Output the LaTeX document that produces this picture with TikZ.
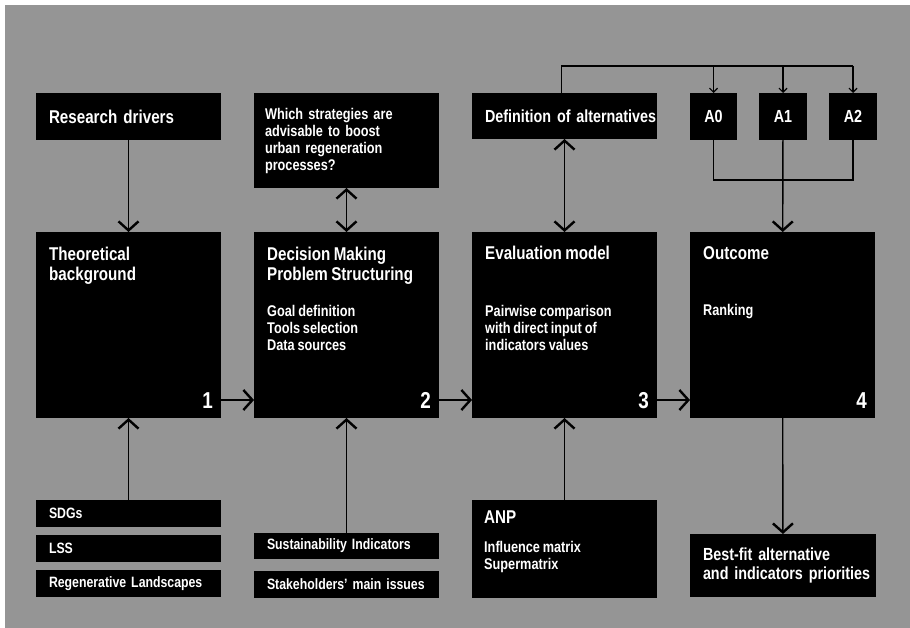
\documentclass[tikz,border=0pt]{standalone}
\usepackage{fontspec}
\setmainfont{Liberation Sans}[FakeStretch=0.82,WordSpace=0.8]
\usepackage{xcolor}
\definecolor{fondgris}{HTML}{959595}
\usetikzlibrary{positioning,arrows.meta}
\newcommand{\fnttitle}{\fontsize{18.5}{20}\selectfont\bfseries}
\newcommand{\fntsub}{\fontsize{15.5}{17}\selectfont\bfseries}
\newcommand{\fntnum}{\fontsize{23}{23}\selectfont\bfseries}
\newcommand{\fntmid}{\fontsize{17.5}{19}\selectfont\bfseries}
\newcommand{\fntsmall}{\fontsize{15}{17}\selectfont\bfseries}

\begin{document}
\begin{tikzpicture}[x=1pt,y=-1pt,
  blk/.style={fill=black,text=white,inner sep=0pt,outer sep=0pt,anchor=north west},
  big/.style={blk,minimum width=185pt,minimum height=186pt},
  strip/.style={blk,minimum width=185pt,minimum height=27pt,text width=159pt,align=left,font=\fntsmall},
  txt/.style={text=white,inner sep=0pt,anchor=base west,align=left},
  fl/.style={line width=1.4pt,-{Straight Barb[length=9pt,width=20pt,line width=2.4pt]}},
  fl2/.style={line width=1.4pt,{Straight Barb[length=9pt,width=20pt,line width=2.4pt]}-{Straight Barb[length=9pt,width=20pt,line width=2.4pt]}},
  fine/.style={line width=1.2pt,-{Straight Barb[length=4pt,width=8pt,line width=1.2pt]}}
]
\useasboundingbox (0,0) rectangle (910,628);
\fill[white] (0,0) rectangle (910,628);
\fill[fondgris] (5,5) rectangle (910,628);

% top row
\node[blk,minimum width=185pt,minimum height=47pt,text width=159pt,align=left,font=\fnttitle] (rd) at (36,93) {Research drivers};
\node[blk,minimum width=185pt,minimum height=95pt,text width=163pt,align=left,font=\fntsub] (ws) at (254,93) {\mbox{Which strategies are}\\advisable to boost\\urban regeneration\\processes?};
\node[blk,minimum width=185pt,minimum height=46pt,text width=159pt,align=left,font=\fntmid] (def) at (472,93) {\mbox{Definition of alternatives}};
\node[blk,minimum width=47pt,minimum height=47pt,font=\fntmid] (a0) at (690,93) {A0};
\node[blk,minimum width=48pt,minimum height=47pt,font=\fntmid] (a1) at (759,93) {A1};
\node[blk,minimum width=48pt,minimum height=47pt,font=\fntmid] (a2) at (829,93) {A2};

% main row
\node[big] (b1) at (36,232) {};
\node[big] (b2) at (254,232) {};
\node[big] (b3) at (472,232) {};
\node[big] (b4) at (690,232) {};
\node[txt,font=\fnttitle] (t1) at ([shift={(13pt,-48pt)}]b1.north west) {Theoretical\\background};
\node[txt,font=\fnttitle] (t2) at ([shift={(13pt,-48pt)}]b2.north west) {Decision Making\\Problem Structuring};
\node[txt,font=\fnttitle] (t3) at ([shift={(13pt,-28pt)}]b3.north west) {Evaluation model};
\node[txt,font=\fnttitle] (t4) at ([shift={(13pt,-28pt)}]b4.north west) {Outcome};
\node[txt,font=\fntsub] (s2) at ([shift={(13pt,-118pt)}]b2.north west) {Goal definition\\Tools selection\\Data sources};
\node[txt,font=\fntsub] (s3) at ([shift={(13pt,-118pt)}]b3.north west) {Pairwise comparison\\with direct input of\\indicators values};
\node[txt,font=\fntsub] (s4) at ([shift={(13pt,-84pt)}]b4.north west) {Ranking};
\foreach \i in {1,...,4}
  \node[txt,anchor=base east,font=\fntnum] (n\i) at ([shift={(-8pt,10pt)}]b\i.south east) {\i};

% bottom row
\node[strip] (sdg) at (36,500) {SDGs};
\node[strip] (lss) at (36,535) {LSS};
\node[strip] (reg) at (36,570) {\mbox{Regenerative Landscapes}};
\node[strip,minimum height=26pt] (si) at (254,533) {\mbox{Sustainability Indicators}};
\node[strip] (sk) at (254,571) {\mbox{Stakeholders' main issues}};
\node[blk,minimum width=185pt,minimum height=98pt] (anp) at (472,500) {};
\node[txt,font=\fnttitle] (anpt) at ([shift={(12pt,-23pt)}]anp.north west) {ANP};
\node[txt,font=\fntsub] (anps) at ([shift={(12pt,-69pt)}]anp.north west) {Influence matrix\\Supermatrix};
\node[blk,minimum width=186pt,minimum height=63pt,text width=160pt,align=left,font=\fntmid] (bf) at (690,534) {\mbox{Best-fit alternative}\\\mbox{and indicators priorities}};

% connectors
\draw[fl] (rd) -- (b1);
\draw[fl2] (ws) -- (b2);
\draw[fl2] (def) -- (b3);
\draw[fl] (sdg) -- (b1);
\draw[fl] (si) -- (b2);
\draw[fl] (anp) -- (b3);
\draw[fl] (b4) -- (bf);
\foreach \a/\b in {b1/b2,b2/b3,b3/b4}
  \draw[fl] ([yshift=18pt]\a.south east) -- ([yshift=18pt]\b.south west);
\coordinate (hi) at (0,66);
\coordinate (lo) at (0,180);
\draw[line width=1.2pt] ([xshift=-3pt]def.north) -- ([xshift=-3pt]def.north |- hi) -- (a2.north |- hi);
\foreach \a in {a0,a1,a2}
  \draw[fine] (\a.north |- hi) -- (\a);
\draw[line width=1.2pt] (a0) -- (a0 |- lo) -- (a2 |- lo) -- (a2);
\draw[fl] (a1) -- (b4);
\end{tikzpicture}
\end{document}
